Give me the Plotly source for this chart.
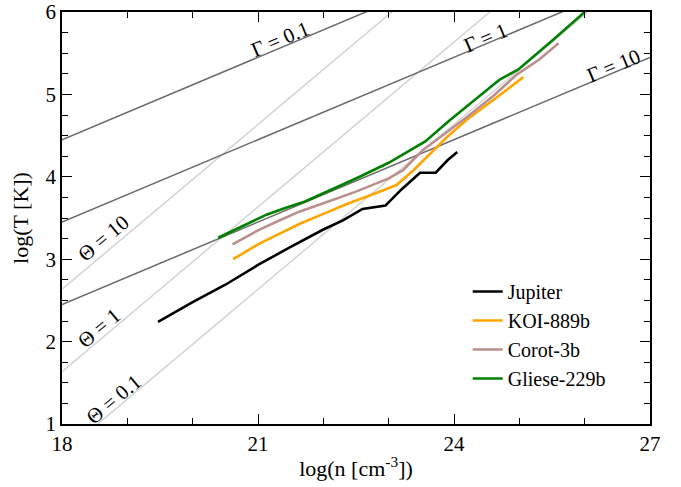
import numpy as np
import plotly.graph_objects as go

# ---- data ----
jup_x = [19.47, 20.0, 20.5, 21.0, 21.5, 22.0, 22.3, 22.6, 22.95, 23.2, 23.48, 23.72, 23.9, 24.05]
jup_y = [2.24, 2.48, 2.69, 2.93, 3.15, 3.36, 3.47, 3.61, 3.65, 3.85, 4.05, 4.05, 4.20, 4.30]

koi_x = [20.62, 21.0, 21.23, 21.64, 22.0, 22.36, 22.8, 23.12, 23.38, 23.6, 23.89, 24.19, 24.5, 24.8, 25.06]
koi_y = [3.00, 3.18, 3.27, 3.43, 3.55, 3.67, 3.80, 3.90, 4.08, 4.25, 4.48, 4.69, 4.87, 5.05, 5.21]

corot_x = [20.61, 21.0, 21.3, 21.64, 22.0, 22.5, 23.0, 23.22, 23.53, 23.85, 24.19, 24.6, 24.96, 25.3, 25.6]
corot_y = [3.18, 3.35, 3.46, 3.58, 3.68, 3.82, 3.98, 4.08, 4.33, 4.52, 4.72, 4.98, 5.24, 5.42, 5.62]

gl_x = [20.39, 20.8, 21.13, 21.45, 21.72, 22.0, 22.5, 23.0, 23.56, 23.94, 24.3, 24.7, 24.98, 25.5, 26.0]
gl_y = [3.26, 3.42, 3.54, 3.63, 3.70, 3.80, 3.98, 4.17, 4.43, 4.69, 4.92, 5.18, 5.30, 5.65, 6.00]

# reference lines: log T = intercept(at log n = 18) + slope * (log n - 18)
gamma_labels = ["Γ = 0.1", "Γ = 1", "Γ = 10"]
gamma_intercepts = [4.45, 3.45, 2.45]
gamma_slope = 1.0 / 3.0
theta_labels = ["Θ = 10", "Θ = 1", "Θ = 0.1"]
theta_intercepts = [2.635, 1.635, 0.635]
theta_slope = 2.0 / 3.0

x_ticks = [18, 21, 24, 27]
y_ticks = [1, 2, 3, 4, 5, 6]

FONT = "Liberation Serif"

fig = go.Figure()
xs = np.array([18.0, 27.0])
for b in theta_intercepts:
    fig.add_trace(go.Scatter(x=xs, y=b + theta_slope * (xs - 18), mode="lines",
                             line=dict(color="#d3d3d3", width=1.5), showlegend=False,
                             hoverinfo="skip"))
for b in gamma_intercepts:
    fig.add_trace(go.Scatter(x=xs, y=b + gamma_slope * (xs - 18), mode="lines",
                             line=dict(color="#696969", width=1.5), showlegend=False,
                             hoverinfo="skip"))

fig.add_trace(go.Scatter(x=jup_x, y=jup_y, mode="lines", name="Jupiter",
                         line=dict(color="black", width=2.6)))
fig.add_trace(go.Scatter(x=koi_x, y=koi_y, mode="lines", name="KOI-889b",
                         line=dict(color="orange", width=2.6)))
fig.add_trace(go.Scatter(x=corot_x, y=corot_y, mode="lines", name="Corot-3b",
                         line=dict(color="rosybrown", width=2.6)))
fig.add_trace(go.Scatter(x=gl_x, y=gl_y, mode="lines", name="Gliese-229b",
                         line=dict(color="green", width=2.6)))

# labels along lines
gamma_label_pos = [(21.35, 5.67), (24.48, 5.69), (26.44, 5.34)]
theta_label_pos = [(18.64, 3.26), (18.57, 2.165), (18.80, 1.30)]
for txt, (lx, ly) in zip(gamma_labels, gamma_label_pos):
    fig.add_annotation(x=lx, y=ly, text=txt, showarrow=False, textangle=-22.8,
                       font=dict(family=FONT, size=21, color="black"))
for txt, (lx, ly) in zip(theta_labels, theta_label_pos):
    fig.add_annotation(x=lx, y=ly, text=txt, showarrow=False, textangle=-40,
                       font=dict(family=FONT, size=21, color="black"))

axis_common = dict(showgrid=False, zeroline=False, showline=True, linecolor="black",
                   linewidth=1.5, mirror="ticks", ticks="inside", ticklen=10,
                   tickwidth=1.2, tickcolor="black", automargin=False,
                   ticklabeloverflow="allow",
                   tickfont=dict(family=FONT, size=21, color="black"))

fig.update_xaxes(range=[18, 27], tickvals=x_ticks, ticktext=[str(v) for v in x_ticks],
                 minor=dict(dtick=1, ticks="inside", ticklen=6, tickcolor="black", tickwidth=1.2),
                 title=dict(text="log(n [cm<sup>-3</sup>])", font=dict(family=FONT, size=22, color="black"),
                            standoff=6),
                 **axis_common)
fig.update_yaxes(range=[1, 6], tickvals=y_ticks, ticktext=[str(v) for v in y_ticks],
                 minor=dict(dtick=0.25, ticks="inside", ticklen=6, tickcolor="black", tickwidth=1.2),
                 title=dict(text="log(T [K])", font=dict(family=FONT, size=22, color="black"),
                            standoff=11),
                 **axis_common)

fig.update_layout(
    template="none",
    width=681, height=487,
    margin=dict(l=62, r=31, t=12, b=63, pad=0),
    plot_bgcolor="white", paper_bgcolor="white",
    font=dict(family=FONT, color="black"),
    legend=dict(x=0.69, y=0.216, xanchor="left", yanchor="middle",
                font=dict(family=FONT, size=20, color="black"),
                bgcolor="rgba(0,0,0,0)", borderwidth=0, tracegroupgap=0, itemwidth=30),
)

# remove the page's default body margin so the figure sits at the window's corner
fig.write_html("out.html", config={"displayModeBar": False},
               post_script="document.body.style.margin='0';")
